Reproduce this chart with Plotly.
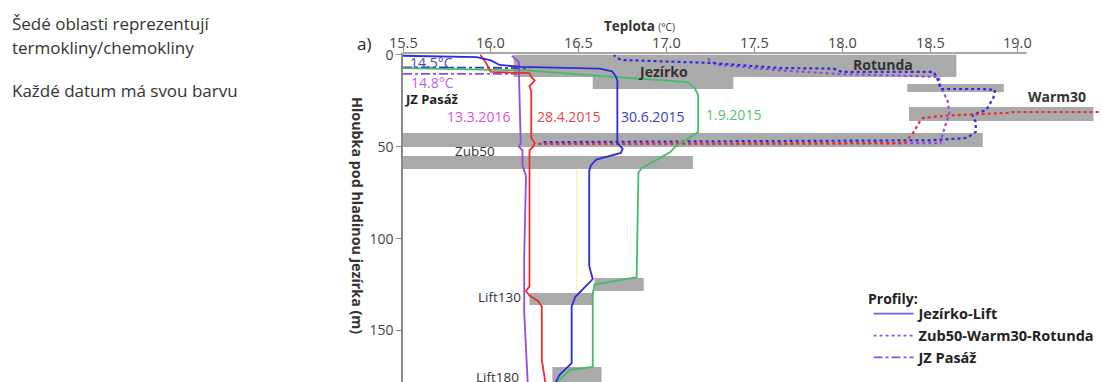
import plotly.graph_objects as go

# ---- thermocline / chemocline bands: temperature span and depth span ----
band_t_from = [16.13, 16.58, 18.37, 18.38, 15.50, 15.50, 16.59, 16.22, 16.35]
band_t_to = [18.65, 17.38, 18.92, 19.43, 18.80, 17.15, 16.87, 16.58, 16.63]
band_d_from = [0.0, 12.0, 15.9, 28.4, 42.5, 55.0, 121.4, 129.6, 169.8]
band_d_to = [12.0, 18.6, 20.2, 36.0, 50.1, 62.1, 128.5, 136.1, 182.0]

# ---- Jezírko-Lift profiles (solid) ----
jl_2016_03_13_t = [16.12, 16.14, 16.16, 16.16, 16.17, 16.17, 16.16, 16.18, 16.18, 16.20, 16.19, 16.19, 16.20, 16.21]
jl_2016_03_13_d = [0.5, 2.0, 4.0, 10.0, 40.0, 48.0, 50.0, 52.0, 60.0, 66.0, 110.0, 140.0, 160.0, 178.0]

jl_2015_04_28_t = [15.94, 15.97, 16.00, 16.10, 16.22, 16.23, 16.25, 16.22, 16.23, 16.23, 16.25, 16.24, 16.22,
                   16.22, 16.20, 16.22, 16.27, 16.29, 16.29, 16.31]
jl_2015_04_28_d = [0.0, 4.0, 9.3, 9.6, 9.9, 12.0, 14.0, 17.0, 20.0, 45.0, 48.0, 50.0, 52.0,
                   126.0, 128.5, 131.0, 134.0, 137.0, 166.0, 178.0]

jl_2015_06_30_t = [15.50, 15.92, 16.00, 16.05, 16.17, 16.62, 16.69, 16.71, 16.72, 16.72, 16.75, 16.74, 16.60,
                   16.57, 16.56, 16.56, 16.58, 16.48, 16.46, 16.46, 16.39, 16.37]
jl_2015_06_30_d = [0.5, 1.2, 3.0, 5.5, 6.6, 7.5, 9.0, 11.5, 14.0, 48.0, 51.0, 53.4, 57.0,
                   60.0, 63.0, 115.0, 122.0, 131.8, 137.0, 167.7, 174.2, 178.0]

jl_2015_09_01_t = [15.50, 16.20, 16.62, 16.96, 17.12, 17.16, 17.18, 17.18, 17.05, 17.02, 16.86, 16.84,
                   16.83, 16.59, 16.58, 16.58, 16.45, 16.38]
jl_2015_09_01_d = [7.2, 8.5, 11.5, 13.5, 14.8, 18.0, 22.0, 42.0, 50.0, 53.0, 61.6, 64.0,
                   121.0, 125.0, 130.0, 169.8, 171.4, 178.0]

jl_faint_t = [16.49, 16.49, 16.49]
jl_faint_d = [62.0, 100.0, 128.0]

# ---- Zub50-Warm30-Rotunda profiles (dotted) ----
zwr_2015_04_28_t = [16.27, 17.00, 18.00, 18.35, 18.40, 18.44, 18.46, 18.60, 18.94, 18.97, 19.47]
zwr_2015_04_28_d = [48.5, 48.3, 48.2, 48.0, 43.0, 36.5, 34.4, 33.0, 31.6, 31.1, 31.1]

zwr_2015_06_30_t = [16.30, 17.50, 18.50, 18.71, 18.76, 18.76, 18.74, 18.82, 18.86, 18.87, 18.80, 18.56,
                    18.54, 18.52, 18.00, 17.95, 17.65, 17.25, 16.74, 16.70]
zwr_2015_06_30_d = [47.5, 47.0, 46.5, 45.2, 42.0, 36.5, 32.7, 30.0, 23.5, 19.1, 18.6, 18.6,
                    12.6, 9.3, 9.3, 7.5, 7.2, 4.4, 2.8, 0.3]

zwr_2016_03_13_t = [16.27, 17.50, 18.56, 18.57, 18.61, 18.60, 18.56, 18.55, 18.40, 18.00, 17.65, 17.30, 17.25, 17.23]
zwr_2016_03_13_d = [48.5, 48.5, 48.0, 43.6, 31.6, 25.0, 17.5, 12.0, 11.5, 10.5, 8.5, 5.5, 3.5, 1.2]

# ---- JZ Pasáž profiles (dash-dot) ----
jz_2015_06_30_t = [15.50, 16.00, 16.22]
jz_2015_06_30_d = [6.8, 7.0, 7.5]

jz_2016_03_13_t = [15.50, 15.85, 16.15]
jz_2016_03_13_d = [10.4, 10.4, 10.4]

# ---- labels ----
date_labels = ["13.3.2016", "28.4.2015", "30.6.2015", "1.9.2015"]
date_label_t = [15.93, 16.44, 16.92, 17.38]
date_label_d = [33.8, 33.8, 33.8, 32.7]
date_label_colors = ["#d94fd9", "#e84545", "#3b3bc8", "#52c274"]

site_labels = ["<b>Jezírko</b>", "<b>Rotunda</b>", "<b>Warm30</b>", "Zub50", "Lift130", "Lift180"]
site_label_t = [16.98, 18.23, 19.22, 15.91, 16.05, 16.04]
site_label_d = [9.3, 5.5, 22.9, 52.3, 131.8, 175.3]

x_ticks = [15.5, 16.0, 16.5, 17.0, 17.5, 18.0, 18.5, 19.0]
x_tick_text = ["15.5", "16.0", "16.5", "17.0", "17.5", "18.0", "18.5", "19.0"]
y_ticks = [0, 50, 100, 150]

C_2016 = "#9a48e0"
C_0428 = "#ee2c2c"
C_0630 = "#2b2be0"
C_0901 = "#3fbd6c"
C_LEG = "#6464e6"
FONT = "Open Sans"

fig = go.Figure()

shapes = []
for t0, t1, d0, d1 in zip(band_t_from, band_t_to, band_d_from, band_d_to):
    shapes.append(dict(type="rect", xref="x", yref="y", x0=t0, x1=t1, y0=d0, y1=d1,
                       fillcolor="#aaaaaa", line=dict(width=0), layer="below"))
# top axis line stops at 19.05
shapes.append(dict(type="line", xref="x", yref="paper", x0=15.5, x1=19.05, y0=1, y1=1,
                   line=dict(color="#8a8a8a", width=1.5)))


def add(t, d, color, dash="solid", width=1.8):
    fig.add_trace(go.Scatter(x=t, y=d, mode="lines", showlegend=False,
                             line=dict(color=color, width=width, dash=dash)))


add(jl_faint_t, jl_faint_d, "#f3eea0", width=1)
add(zwr_2016_03_13_t, zwr_2016_03_13_d, C_2016, "dot", 2.2)
add(zwr_2015_06_30_t, zwr_2015_06_30_d, C_0630, "dot", 2.2)
add(zwr_2015_04_28_t, zwr_2015_04_28_d, C_0428, "dot", 2.2)
add(jz_2015_06_30_t, jz_2015_06_30_d, "#3a3ab0", "dashdot", 1.8)
add(jz_2016_03_13_t, jz_2016_03_13_d, C_2016, "dashdot", 1.8)
add(jl_2015_09_01_t, jl_2015_09_01_d, C_0901)
add(jl_2016_03_13_t, jl_2016_03_13_d, C_2016)
add(jl_2015_04_28_t, jl_2015_04_28_d, C_0428)
add(jl_2015_06_30_t, jl_2015_06_30_d, C_0630)

# legend entries for profile line styles
for name, dash in [("Jezírko-Lift", "solid"), ("Zub50-Warm30-Rotunda", "dot"), ("JZ Pasáž", "dashdot")]:
    fig.add_trace(go.Scatter(x=[None], y=[None], mode="lines", name=name,
                             line=dict(color=C_LEG, width=1.8, dash=dash)))


def note(x, y, text, size, color, xref="x", yref="y", **kw):
    d = dict(x=x, y=y, xref=xref, yref=yref, text=text, showarrow=False,
             xanchor="center", yanchor="middle",
             font=dict(family=FONT, size=size, color=color))
    d.update(kw)
    return d


ann = []
# temperature tick labels sit tight against the top axis
for v, txt in zip(x_ticks, x_tick_text):
    ann.append(note(v, 1.032, txt, 14.5, "#444444", yref="paper"))
for txt, t, d, c in zip(date_labels, date_label_t, date_label_d, date_label_colors):
    ann.append(note(t, d, txt, 14, c))
for txt, t, d in zip(site_labels, site_label_t, site_label_d):
    ann.append(note(t, d, txt, 14 if "<b>" in txt else 13.5, "#333333"))

ann += [
    note(15.66, 3.9, "14.5°C", 14, "#4848b0"),
    note(15.67, 14.8, "14.8°C", 14, "#b866e8"),
    note(15.66, 24.0, "<b>JZ Pasáž</b>", 13, "#222222"),
    note(0.3395, 1.082, "<b>Teplota</b> <span style='font-size:10px'>(°C)</span>", 13.5, "#333333",
         xref="paper", yref="paper"),
    note(-0.056, 1.03, "a)", 17, "#222222", xref="paper", yref="paper"),
    note(-0.0659, 0.5076, "<b>Hloubka pod hladinou jezírka (m)</b>", 14.3, "#333333",
         xref="paper", yref="paper", textangle=90),
    note(-0.563, 1.091, "Šedé oblasti reprezentují", 17, "#333333",
         xref="paper", yref="paper", xanchor="left"),
    note(-0.563, 1.018, "termokliny/chemokliny", 17, "#333333",
         xref="paper", yref="paper", xanchor="left"),
    note(-0.563, 0.887, "Každé datum má svou barvu", 17, "#333333",
         xref="paper", yref="paper", xanchor="left"),
    note(0.664, 0.2545, "<b>Profily:</b>", 14, "#222222",
         xref="paper", yref="paper", xanchor="left"),
]

fig.update_layout(
    width=1101, height=382,
    margin=dict(l=403, r=0, t=53, b=0),
    paper_bgcolor="white", plot_bgcolor="white",
    shapes=shapes, annotations=ann,
    font=dict(family=FONT),
    showlegend=True,
    legend=dict(x=0.667, y=0.256, xanchor="left", yanchor="top",
                font=dict(family=FONT, size=14.5, color="#222222", weight="bold"),
                bgcolor="rgba(0,0,0,0)", tracegroupgap=0, itemwidth=40),
    xaxis=dict(side="top", range=[15.5, 19.473], tickvals=x_ticks, showticklabels=False,
               ticks="outside", ticklen=5, tickcolor="#8a8a8a",
               showgrid=False, zeroline=False, showline=False),
    yaxis=dict(range=[178, -1], tickvals=y_ticks, ticks="outside", ticklen=5,
               tickcolor="#8a8a8a", tickfont=dict(family=FONT, size=14, color="#444444"),
               showgrid=False, zeroline=False, showline=True, linecolor="#8a8a8a", linewidth=1.5),
)

fig.write_html("out.html")
